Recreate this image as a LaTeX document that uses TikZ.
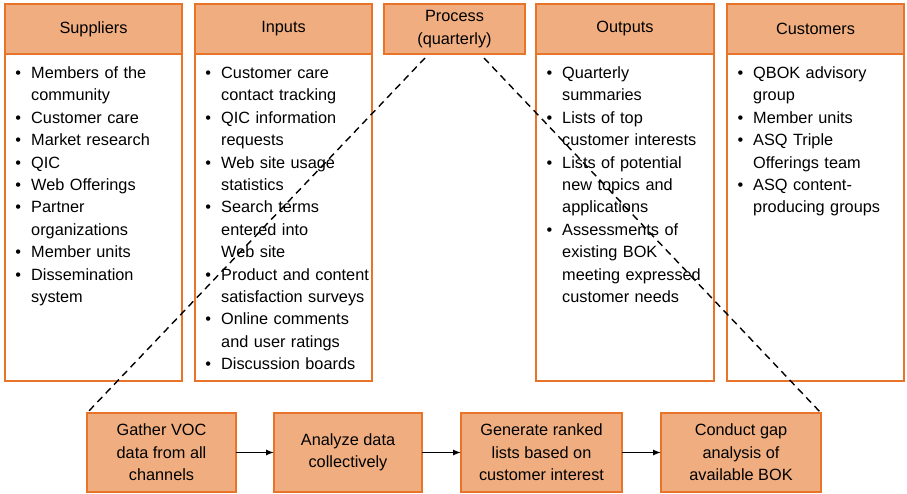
\documentclass[tikz,border=0pt]{standalone}
\usepackage{fontspec}
\setmainfont{Liberation Sans}
\usepackage{enumitem}
\usetikzlibrary{positioning,calc,arrows.meta}

\definecolor{boxorange}{HTML}{E8742A}
\definecolor{boxfill}{HTML}{F0AE80}

\tikzset{
  head/.style={draw=boxorange, fill=boxfill, line width=2pt, outer sep=0pt,
    inner sep=0pt, minimum height=50pt, align=center},
  bodybox/.style={draw=boxorange, line width=2pt, outer sep=0pt,
    inner sep=0pt, minimum height=327pt},
  listtext/.style={anchor=north west, inner sep=0pt, text width=180pt, align=left},
  stepbox/.style={draw=boxorange, fill=boxfill, line width=2pt, outer sep=0pt,
    inner sep=0pt, minimum height=79pt, align=center},
  dashline/.style={line width=1.4pt, dash pattern=on 7pt off 5pt},
  flow/.style={line width=1.2pt, -{Latex[length=8pt,width=6pt]}},
}

\newcommand{\pointlist}[1]{%
  \begin{itemize}[leftmargin=26pt,labelsep=10pt,itemsep=0pt,topsep=0pt,
    parsep=0pt,partopsep=0pt,label=\textbullet]#1\end{itemize}}

\begin{document}
\begin{tikzpicture}[x=1pt, y=-1pt,
    every node/.style={font=\fontsize{16.3}{22.4}\selectfont}]
    \useasboundingbox (0,0) rectangle (907,494);

    % Header row
    \node[head, minimum width=177pt] (sup) at (93.5,29) {Suppliers};
    \node[head, minimum width=177pt] (inp) at (283.5,29) {Inputs};
    \node[head, minimum width=141pt] (proc) at (454.5,29) {Process\\(quarterly)};
    \node[head, minimum width=178pt] (outp) at (625,29) {Outputs};
    \node[head, minimum width=177pt] (cust) at (815.5,29) {Customers};

    % Column bodies
    \node[bodybox, minimum width=177pt, below=0pt of sup] (supbody) {};
    \node[bodybox, minimum width=177pt, below=0pt of inp] (inpbody) {};
    \node[bodybox, minimum width=178pt, below=0pt of outp] (outpbody) {};
    \node[bodybox, minimum width=177pt, below=0pt of cust] (custbody) {};

    % Lists
    \node[listtext] (suplist) at ($(supbody.north west)+(0,2)$) {\pointlist{
      \item Members of the\\community
      \item Customer care
      \item Market research
      \item QIC
      \item Web Offerings
      \item Partner\\organizations
      \item Member units
      \item Dissemination\\system}};
    \node[listtext] (inplist) at ($(inpbody.north west)+(0,2)$) {\pointlist{
      \item Customer care\\contact tracking
      \item QIC information\\requests
      \item Web site usage\\statistics
      \item Search terms\\entered into\\Web site
      \item Product and content\\satisfaction surveys
      \item Online comments\\and user ratings
      \item Discussion boards}};
    \node[listtext] (outplist) at ($(outpbody.north west)+(0,2)$) {\pointlist{
      \item Quarterly\\summaries
      \item Lists of top\\customer interests
      \item Lists of potential\\new topics and\\applications
      \item Assessments of\\existing BOK\\meeting expressed\\customer needs}};
    \node[listtext] (custlist) at ($(custbody.north west)+(0,2)$) {\pointlist{
      \item QBOK advisory\\group
      \item Member units
      \item ASQ Triple\\Offerings team
      \item ASQ content-\\producing groups}};

    % Process steps
    \node[stepbox, minimum width=149pt] (gather) at (161.5,452.5)
      {Gather VOC\\data from all\\channels};
    \node[stepbox, minimum width=148pt, right=38pt of gather] (analyze)
      {Analyze data\\collectively};
    \node[stepbox, minimum width=161pt, right=39pt of analyze] (rank)
      {Generate ranked\\lists based on\\customer interest};
    \node[stepbox, minimum width=160pt, right=39pt of rank] (gap)
      {Conduct gap\\analysis of\\available BOK};

    \draw[flow] (gather) -- (analyze);
    \draw[flow] (analyze) -- (rank);
    \draw[flow] (rank) -- (gap);

    % Zoom lines
    \coordinate (dl) at (425,58);
    \coordinate (dr) at (484,58);
    \draw[dashline] (dl) -- (gather.north west);
    \draw[dashline] (dr) -- (gap.north east);
\end{tikzpicture}
\end{document}
